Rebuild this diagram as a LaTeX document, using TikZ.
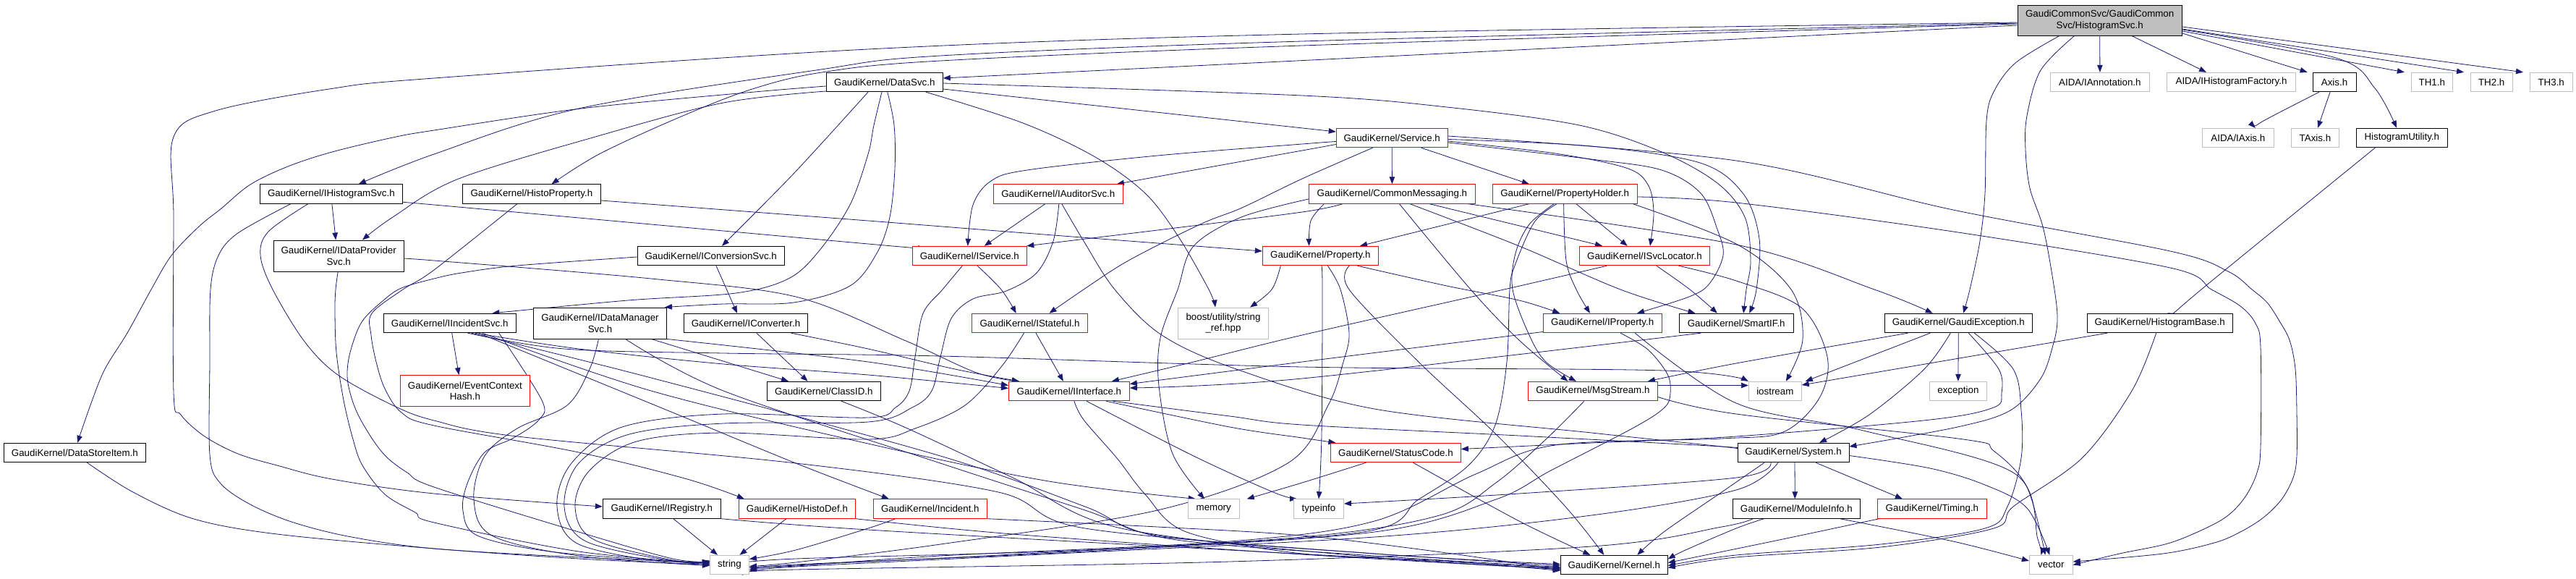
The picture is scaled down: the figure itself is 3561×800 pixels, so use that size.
\documentclass[tikz,border=0pt]{standalone}
\usepackage{fontspec}
\setmainfont{Liberation Sans}
\usetikzlibrary{arrows.meta,backgrounds}
\definecolor{edgec}{HTML}{191970}
\definecolor{gry}{HTML}{BFBFBF}
\newcommand\nfont{\fontsize{13.33pt}{15.5pt}\selectfont}
\newcommand\edgep[1]{\draw[e] plot[smooth,tension=0.55] coordinates {#1};}
\begin{document}
\begin{tikzpicture}[x=1pt,y=-1pt,
  nb/.style={draw=black,line width=0.9pt,fill=white,inner sep=0pt,minimum height=26.5pt,align=center,font=\nfont},
  nr/.style={nb,draw=red},
  ng/.style={nb,draw=gry},
  e/.style={draw=edgec,line width=0.8pt,-{Triangle[length=10pt,width=7.5pt]}}]
\useasboundingbox (0,0) rectangle (3561,800);
% ---------- nodes ----------
\node[nb,fill=gry,minimum width=227.5pt,minimum height=42pt] (root) at (2902.7,28) {GaudiCommonSvc/GaudiCommon\\Svc/HistogramSvc.h};
\node[nb,minimum width=161pt] (datasvc) at (1222.8,113.5) {GaudiKernel/DataSvc.h};
\node[ng,minimum width=137pt] (iannot) at (2902.9,113.5) {AIDA/IAnnotation.h};
\node[ng,minimum width=178pt] (ihfact) at (3084.5,113.5) {AIDA/IHistogramFactory.h};
\node[nb,minimum width=60pt] (axis) at (3227,113.5) {Axis.h};
\node[ng,minimum width=57pt] (th1) at (3361.8,113.5) {TH1.h};
\node[ng,minimum width=58pt] (th2) at (3444.2,113.5) {TH2.h};
\node[ng,minimum width=59pt] (th3) at (3526.7,113.5) {TH3.h};
\node[nr,minimum width=154pt] (service) at (1924.2,190.5) {GaudiKernel/Service.h};
\node[ng,minimum width=99pt] (iaxis) at (3093.8,190.5) {AIDA/IAxis.h};
\node[ng,minimum width=66pt] (taxis) at (3200.4,190.5) {TAxis.h};
\node[nb,minimum width=126pt] (histutil) at (3320.3,190.5) {HistogramUtility.h};
\node[nb,minimum width=197pt] (ihistsvc) at (457.9,268) {GaudiKernel/IHistogramSvc.h};
\node[nb,minimum width=191pt] (histprop) at (734.9,268) {GaudiKernel/HistoProperty.h};
\node[nr,minimum width=179pt] (iauditor) at (1462.8,268) {GaudiKernel/IAuditorSvc.h};
\node[nr,minimum width=230pt] (commsg) at (1924.4,268) {GaudiKernel/CommonMessaging.h};
\node[nr,minimum width=200pt] (propholder) at (2163.2,268) {GaudiKernel/PropertyHolder.h};
\node[nb,minimum width=180pt,minimum height=43pt] (idataprov) at (468.2,353.5) {GaudiKernel/IDataProvider\\Svc.h};
\node[nb,minimum width=203pt] (iconvsvc) at (982.7,353.5) {GaudiKernel/IConversionSvc.h};
\node[nr,minimum width=158pt] (iservice) at (1340.3,353.5) {GaudiKernel/IService.h};
\node[nr,minimum width=160pt] (property) at (1825.3,353.5) {GaudiKernel/Property.h};
\node[nr,minimum width=180pt] (isvcloc) at (2273.4,353.5) {GaudiKernel/ISvcLocator.h};
\node[nb,minimum width=183pt] (iincsvc) at (621.7,446.5) {GaudiKernel/IIncidentSvc.h};
\node[nb,minimum width=184pt,minimum height=43pt] (idatamgr) at (829.5,446.5) {GaudiKernel/IDataManager\\Svc.h};
\node[nb,minimum width=171pt] (iconverter) at (1031,446.5) {GaudiKernel/IConverter.h};
\node[nr,minimum width=160pt] (istateful) at (1423.5,446.5) {GaudiKernel/IStateful.h};
\node[ng,minimum width=125pt,minimum height=43pt] (boost) at (1691,446.5) {boost/utility/string\\\_ref.hpp};
\node[nr,minimum width=164pt] (iproperty) at (2215.2,446.5) {GaudiKernel/IProperty.h};
\node[nb,minimum width=158pt] (smartif) at (2400.2,446.5) {GaudiKernel/SmartIF.h};
\node[nb,minimum width=204pt] (gexc) at (2707.3,446.5) {GaudiKernel/GaudiException.h};
\node[nb,minimum width=201pt] (histbase) at (2985.7,446.5) {GaudiKernel/HistogramBase.h};
\node[nr,minimum width=179pt,minimum height=43pt] (eventctx) at (642.9,540) {GaudiKernel/EventContext\\Hash.h};
\node[nb,minimum width=157pt] (classid) at (1138.8,540.5) {GaudiKernel/ClassID.h};
\node[nr,minimum width=167pt] (iinterface) at (1477.9,540.5) {GaudiKernel/IInterface.h};
\node[nr,minimum width=179pt] (msgstream) at (2201.9,540.5) {GaudiKernel/MsgStream.h};
\node[ng,minimum width=73pt] (iostream) at (2453.8,540.5) {iostream};
\node[ng,minimum width=79pt] (exception) at (2706.9,540.5) {exception};
\node[nb,minimum width=196pt] (datastore) at (103.4,625.5) {GaudiKernel/DataStoreItem.h};
\node[nr,minimum width=180pt] (statuscode) at (1929.4,625.5) {GaudiKernel/StatusCode.h};
\node[nb,minimum width=154pt] (system) at (2479,625.5) {GaudiKernel/System.h};
\node[nb,minimum width=163pt] (iregistry) at (914.8,703) {GaudiKernel/IRegistry.h};
\node[nr,minimum width=161pt] (histodef) at (1101.9,703) {GaudiKernel/HistoDef.h};
\node[nr,minimum width=157pt] (incident) at (1285.8,703) {GaudiKernel/Incident.h};
\node[ng,minimum width=71pt] (memory) at (1677.7,703) {memory};
\node[ng,minimum width=69pt] (typeinfo) at (1823,703) {typeinfo};
\node[nb,minimum width=176pt] (modinfo) at (2483.3,703) {GaudiKernel/ModuleInfo.h};
\node[nr,minimum width=151pt] (timing) at (2670.9,703) {GaudiKernel/Timing.h};
\node[ng,minimum width=54pt] (string) at (1008.5,780.5) {string};
\node[nb,minimum width=148pt] (kernel) at (2231.3,780.5) {GaudiKernel/Kernel.h};
\node[ng,minimum width=60pt] (vector) at (2835.3,780.5) {vector};
% ---------- edges ----------
\begin{scope}[on background layer]
% root
\draw[e] ([yshift=-7pt]root.west) -- ([yshift=5.5pt]datasvc.east);
\edgep{([yshift=-4pt]root.west) (1800,57) (1300,77) (1128,97) (800,150) (600,213) ([xshift=38pt]ihistsvc.north)}
\edgep{([yshift=-5pt]root.west) (1800,63) (1300,84) (1136,100) (1040,123) (944,160) (830,212) ([xshift=27.7pt]histprop.north)}
\edgep{([yshift=-3pt]root.west) (1800,47) (1200,68) (600,108) (455,123) (298,153) (240,189) (240,300) (240,542) (250,573) (283,603) (329,627) (383,643) (459,662) (600,682) ([yshift=3pt]iregistry.west)}
\draw[e] (root.south) -- (iannot.north);
\draw[e] ([xshift=44pt]root.south) -- ([xshift=-34.5pt]ihfact.north);
\draw[e] ([yshift=-18pt]root.east) -- ([xshift=-37.4pt]axis.north);
\draw[e] ([yshift=-15pt]root.east) -- ([xshift=-38pt]th1.north);
\draw[e] ([yshift=-12pt]root.east) -- ([xshift=-38.2pt]th2.north);
\draw[e] ([yshift=-9pt]root.east) -- ([xshift=-38.7pt]th3.north);
\edgep{([yshift=-13pt]root.east) (3229,80) (3283,122) ([xshift=-7.3pt]histutil.north)}
\edgep{([xshift=-55.7pt]root.south) (2786,87) (2756,127) (2746,167) (2744,267) (2737,333) (2723,400) ([xshift=6.7pt]gexc.north)}
\edgep{([xshift=-35pt]root.south) (2821,97) (2802,160) (2800,207) (2806,260) (2825,317) (2840,400) (2844,443) (2838,477) (2821,523) (2779,567) (2706,590) ([yshift=8.5pt]system.east)}
% datasvc
\edgep{([yshift=-5.5pt]datasvc.west) (1032,128) (803,150) (600,180) (543,190) (459,210) (398,230) (346,255) (306,288) (275,313) (237,353) (209,400) (176,460) (145,510) (126,557) ([xshift=3.6pt]datastore.north)}
\edgep{([yshift=-12.5pt]datasvc.west) (1000,142) (830,187) (634,247) (543,300) ([xshift=32.8pt]idataprov.north)}
\edgep{([xshift=-22.8pt]datasvc.south) (1097,240) ([xshift=15.3pt]iconvsvc.north)}
\edgep{([xshift=-3.8pt]datasvc.south) (1208,173) (1200,213) (1175,283) (1132,347) (1090,385) (1017,405) (868,415) ([xshift=58.7pt]iincsvc.north)}
\edgep{([xshift=4pt]datasvc.south) (1236,173) (1237,233) (1230,300) (1212,350) (1175,395) (1097,418) (1000,420) ([xshift=-3pt]idatamgr.north east)}
\draw[e] ([yshift=-9.5pt]datasvc.east) -- ([yshift=8.5pt]service.west);
\edgep{([yshift=-1.5pt]datasvc.east) (1800,132) (2000,148) (2183,173) (2297,210) (2374,253) (2412,300) (2420,360) (2414,400) ([xshift=10pt]smartif.north)}
\edgep{([xshift=57pt]datasvc.south) (1414,170) (1514,217) (1583,267) (1629,327) (1671,400) ([xshift=-11pt]boost.north)}
% ihistsvc
\draw[e] ([xshift=1pt]ihistsvc.south) -- ([xshift=-4pt]idataprov.north);
\edgep{([xshift=-56pt]ihistsvc.south) (329,322) (302,353) (291,400) (290,500) (290,628) (304,667) (346,697) (406,722) (486,742) (600,758) (800,770) ([yshift=3pt]string.west)}
\edgep{([xshift=-32pt]ihistsvc.south) (371,320) (360,353) (377,400) (421,472) (467,518) (543,560) (600,581) (715,603) (1100,640) (1380,680) (1500,730) (1900,765) ([yshift=1pt]kernel.west)}
\edgep{([yshift=-12pt]ihistsvc.east) (600,283) (1200,337) ([yshift=11.5pt]iservice.west)}
% histprop
\edgep{([yshift=-9pt]histprop.east) (1200,305) (1430,323) ([yshift=6.5pt]property.west)}
\edgep{([xshift=-20pt]histprop.south) (600,373) (557,400) (514,433) (513,463) (520,500) (532,537) (555,570) (600,588) (800,625) (950,662) ([xshift=-73pt]histodef.north)}
% idataprov
\edgep{([xshift=-1pt]idataprov.south) (464,400) (463,430) (465,487) (475,553) (488,607) (501,643) (532,683) (574,708) (600,722) (800,762) ([yshift=2pt]string.west)}
\edgep{([yshift=-4pt]idataprov.east) (600,360) (900,385) (1100,410) (1250,470) (1350,515) ([xshift=-69pt]iinterface.north)}
% iconvsvc
\draw[e] ([xshift=7.3pt]iconvsvc.south) -- ([xshift=-12pt]iconverter.north);
\edgep{([yshift=-1.5pt]iconvsvc.west) (715,367) (638,377) (600,385) (555,398) (530,415) (500,445) (484,487) (480,520) (486,550) (497,577) (517,610) (536,633) (563,653) (600,673) (800,735) (930,772) ([yshift=5pt]string.west)}
% iincsvc
\draw[e] ([xshift=3pt]iincsvc.south) -- ([xshift=-8.5pt]eventctx.north);
\edgep{([xshift=35pt]iincsvc.south) (800,482) (1000,503) (1200,518) ([yshift=4pt]iinterface.west)}
\edgep{([xshift=40pt]iincsvc.south) (930,570) (1100,640) ([xshift=-57pt]incident.north)}
\edgep{([xshift=68pt]iincsvc.south) (749,553) (745,580) (710,605) (670,625) (646,668) (640,706) (660,740) (760,762) (930,776) ([yshift=1pt]string.west)}
\edgep{([xshift=45pt]iincsvc.south) (900,540) (1200,613) (1450,665) ([xshift=-25pt]memory.north)}
\edgep{([xshift=30pt]iincsvc.south) (900,522) (1300,630) (1500,700) (1600,740) (1900,765) ([yshift=-1pt]kernel.west)}
\edgep{([xshift=25pt]iincsvc.south) (780,482) (1000,488) (1300,492) (1800,507) (2300,512) (iostream.north west)}
% iconverter / idatamgr / classid
\draw[e] ([xshift=14.8pt]iconverter.south) -- ([xshift=-22.2pt]classid.north);
\edgep{([xshift=62.7pt]iconverter.south) (1200,482) (1320,510) ([xshift=-69pt]iinterface.north)}
\draw[e] ([xshift=71pt]idatamgr.south) -- ([xshift=-48.8pt]classid.north);
\edgep{(idatamgr.south east) (1200,500) ([yshift=8pt]iinterface.west)}
\edgep{([xshift=-2pt]idatamgr.south) (815,510) (784,560) (715,592) (670,630) (655,690) (680,740) (800,768) ([yshift=-1pt]string.west)}
\edgep{([xshift=35pt]idatamgr.south) (1000,540) (1300,640) (1500,705) (1620,745) (1900,768) ([yshift=-3pt]kernel.west)}
\edgep{([xshift=24pt]classid.south) (1250,590) (1400,660) (1550,730) (1900,770) ([yshift=-5pt]kernel.west)}
% row 8 left
\draw[e] ([xshift=16pt]iregistry.south) -- ([xshift=-16.5pt]string.north);
\edgep{(iregistry.south east) (1200,732) (1700,760) ([yshift=-4pt]kernel.west)}
\draw[e] ([xshift=-15pt]histodef.south) -- ([xshift=14pt]string.north);
\edgep{(histodef.south east) (1400,738) (1800,766) ([yshift=-6pt]kernel.west)}
\edgep{([xshift=-48pt]incident.south) (1200,730) (1100,760) ([yshift=8pt]string.east)}
\edgep{(incident.south east) (1600,728) (1800,740) (2000,764) ([yshift=-7pt]kernel.west)}
\edgep{([xshift=17pt]datastore.south) (184,680) (268,717) (383,738) (600,758) (800,772) (string.west)}
% service
\edgep{([yshift=-9pt]service.west) (1800,208) (1650,235) ([xshift=81pt]iauditor.north)}
\edgep{([yshift=-5pt]service.west) (1800,199) (1600,215) (1420,235) (1370,250) (1345,283) ([xshift=-2.5pt]iservice.north)}
\edgep{([xshift=-26.6pt]service.south) (1800,247) (1717,287) (1659,310) (1560,360) (1498,400) ([xshift=27pt]istateful.north)}
\draw[e] (service.south) -- (commsg.north);
\draw[e] ([xshift=40.4pt]service.south) -- ([xshift=-49.4pt]propholder.north);
\edgep{([yshift=-4.5pt]service.east) (2150,212) (2248,232) (2278,255) (2286,293) ([xshift=7.6pt]isvcloc.north)}
\edgep{([yshift=-6.5pt]service.east) (2200,220) (2297,235) (2351,267) (2374,317) (2382,353) (2363,392) (2335,410) ([xshift=47.8pt]iproperty.north)}
\edgep{([yshift=-2pt]service.east) (2200,202) (2350,225) (2410,268) (2432,330) (2428,400) ([xshift=18pt]smartif.north)}
\edgep{([yshift=2.5pt]service.east) (2400,222) (2700,290) (3000,347) (3080,375) (3113,400) (3134,418) (3150,442) (3165,470) (3173,510) (3175,570) (3175,630) (3170,660) (3154,690) (3129,715) (3097,735) (3061,750) (2990,765) ([yshift=4.5pt]vector.east)}
% propholder
\edgep{([yshift=-4pt]propholder.east) (2400,280) (2700,320) (3000,370) (3057,400) (3097,423) (3118,447) (3125,480) (3125,617) (3120,653) (3106,683) (3086,707) (3059,725) (3000,750) (2930,765) (vector.east)}
\draw[e] ([xshift=-49.4pt]propholder.south) -- ([xshift=54.7pt]property.north);
\draw[e] ([xshift=15.6pt]propholder.south) -- ([xshift=-23.7pt]isvcloc.north);
\edgep{([xshift=-1.6pt]propholder.south) (2165,360) (2179,400) ([xshift=-17.2pt]iproperty.north)}
\edgep{([xshift=-15pt]propholder.south) (2114,310) (2095,350) (2091,400) (2114,463) (2137,500) ([xshift=-23pt]msgstream.north)}
\edgep{([xshift=94pt]propholder.south) (2400,337) (2476,400) (2492,469) ([xshift=15pt]iostream.north)}
\edgep{([xshift=-11pt]propholder.south) (2121,307) (2094,367) (2087,400) (2083,500) (2067,587) (2030,643) (1961,690) (1884,735) (1500,760) (1100,772) ([yshift=2pt]string.east)}
% iauditor
\draw[e] ([xshift=-18pt]iauditor.south) -- ([xshift=20.4pt]iservice.north);
\edgep{([xshift=1pt]iauditor.south) (1456,333) (1433,377) (1391,402) (1345,413) (1315,440) (1300,493) (1288,540) (1261,563) (1200,583) (1000,585) (870,600) (800,640) (780,700) (810,748) (930,775) ([yshift=4pt]string.west)}
\edgep{([xshift=5pt]iauditor.south) (1498,333) (1541,400) (1606,463) (1709,510) (1900,565) (2200,598) (2380,617) ([yshift=5.5pt]system.west)}
% commsg
\edgep{([xshift=-68.4pt]commsg.south) (1800,293) (1600,318) ([xshift=79pt]iservice.north)}
\edgep{([xshift=-94pt]commsg.south) (1812,305) ([xshift=-15.7pt]property.north)}
\draw[e] ([xshift=51.6pt]commsg.south) -- ([xshift=-58.4pt]isvcloc.north);
\edgep{([xshift=24.6pt]commsg.south) (2100,340) (2240,400) ([xshift=-56.8pt]smartif.north)}
\edgep{([xshift=10pt]commsg.south) (2033,400) (2100,470) ([xshift=-34.5pt]msgstream.north)}
\edgep{([yshift=-7pt]commsg.west) (1716,300) (1650,340) (1628,400) (1604,467) (1602,533) (1621,627) ([xshift=-12.7pt]memory.north)}
\edgep{([xshift=105pt]commsg.south) (2400,338) (2591,400) ([xshift=-35.6pt]gexc.north)}
% property
\edgep{([xshift=51pt]property.south) (2000,395) (2100,415) ([xshift=-59pt]iproperty.north)}
\edgep{([xshift=-55pt]property.south) (1758,400) ([xshift=37pt]boost.north)}
\edgep{([xshift=1.5pt]property.south) (1828,400) (1827,600) (typeinfo.north)}
\edgep{([xshift=40pt]property.south) (1865,400) (1961,500) (2068,600) (2164,700) ([xshift=-14pt]kernel.north)}
\edgep{([xshift=10pt]property.south) (1853,400) (1865,460) (1857,500) (1836,560) (1780,640) (1600,705) (1300,752) (1100,777) ([yshift=-2pt]string.east)}
% isvcloc
\edgep{([xshift=-52pt]isvcloc.south) (2079,400) (1800,463) (1650,500) ([xshift=59pt]iinterface.north)}
\edgep{([xshift=16.4pt]isvcloc.south) (2336,400) ([xshift=-26.2pt]smartif.north)}
\edgep{([xshift=47pt]isvcloc.south) (2400,388) (2490,425) (2526,493) (2515,550) (2465,597) (2380,606) (2150,615) (2040,655) (1900,720) (1700,748) (1300,768) (1100,782) ([yshift=-4pt]string.east)}
% iproperty
\edgep{([yshift=-12pt]iproperty.west) (1800,500) ([yshift=10pt]iinterface.east)}
\edgep{([xshift=25pt]iproperty.south) (2278,483) (2305,517) (2309,543) (2301,563) (2260,590) (2144,650) (2068,690) (1900,735) (1500,762) (1100,780) ([yshift=-5pt]string.east)}
\edgep{([xshift=45pt]iproperty.south) (2400,557) (2576,595) (2783,653) (2817,745) ([xshift=-14pt]vector.north)}
% smartif
\edgep{([xshift=-49pt]smartif.south) (1800,523) ([yshift=4.5pt]iinterface.east)}
% gexc
\draw[e] ([xshift=-39pt]gexc.south) -- ([xshift=42pt]iostream.north);
\draw[e] (gexc.south) -- (exception.north);
\edgep{([xshift=-70pt]gexc.south) (2400,502) ([xshift=76pt]msgstream.north)}
\edgep{([xshift=-11pt]gexc.south) (2660,510) (2584,573) ([xshift=36pt]system.north)}
\edgep{([xshift=22pt]gexc.south) (2783,510) (2794,567) (2794,633) (2775,700) (2744,730) (2600,752) (2400,767) ([yshift=-1pt]kernel.east)}
\edgep{([xshift=14pt]gexc.south) (2763,510) (2767,543) (2756,563) (2668,580) (2400,603) (2200,612) ([yshift=5pt]statuscode.east)}
% msgstream
\edgep{([xshift=-12pt]msgstream.south) (2137,607) (2068,667) (1990,712) (1800,742) (1400,766) (1100,781) ([yshift=-7pt]string.east)}
\draw[e] ([yshift=8pt]msgstream.east) -- ([yshift=8pt]iostream.west);
\edgep{([yshift=-8pt]msgstream.east) (2400,572) (2714,607) (2756,623) (2802,673) ([xshift=-8pt]vector.north)}
% statuscode
\edgep{([xshift=-41pt]statuscode.south) (1800,667) ([xshift=46pt]memory.north)}
\edgep{([xshift=24pt]statuscode.south) (2100,720) ([xshift=-33pt]kernel.north)}
% iinterface
\edgep{([xshift=51pt]iinterface.south) (1700,590) (1800,605) ([xshift=-83pt]statuscode.north)}
\edgep{([xshift=60pt]iinterface.south) (1700,575) (1800,587) (2100,602) (2380,617) ([yshift=5.5pt]system.west)}
\edgep{([xshift=24pt]iinterface.south) (1650,630) (1760,680) ([xshift=-30pt]typeinfo.north)}
\edgep{([xshift=7pt]iinterface.south) (1498,580) (1544,633) (1583,683) (1640,735) (1800,765) (2000,775) ([yshift=-8pt]kernel.west)}
% iservice / istateful
\edgep{([xshift=10.7pt]iservice.south) (1384,400) ([xshift=-18.8pt]istateful.north)}
\edgep{([xshift=-10pt]iservice.south) (1303,400) (1276,433) (1265,493) (1257,540) (1238,563) (1200,577) (1000,572) (860,590) (790,640) (770,700) (800,752) (930,778) ([yshift=6pt]string.west)}
\draw[e] ([xshift=8.5pt]istateful.south) -- ([xshift=-8pt]iinterface.north);
\edgep{([xshift=-8pt]istateful.south) (1384,507) (1334,560) (1265,592) (1200,607) (1000,598) (880,610) (815,650) (795,700) (820,745) (930,774) ([yshift=4pt]string.west)}
% right side
\edgep{([xshift=-37pt]histutil.south) (3043,400) ([xshift=21.3pt]histbase.north)}
\edgep{([xshift=-21pt]axis.south) (3129,167) ([xshift=24pt]iaxis.north)}
\draw[e] ([xshift=-6pt]axis.south) -- ([xshift=3.6pt]taxis.north);
\draw[e] ([xshift=-72.7pt]histbase.south) -- ([yshift=8.5pt]iostream.east);
\edgep{([xshift=-5pt]histbase.south) (2947,540) (2878,633) (2783,700) (2756,730) (2600,756) (2400,770) ([yshift=-4pt]kernel.east)}
% system
\edgep{([xshift=-31pt]system.south) (2400,660) (2100,682) ([yshift=7pt]typeinfo.east)}
\draw[e] ([xshift=2pt]system.south) -- ([xshift=-2pt]modinfo.north);
\draw[e] ([xshift=31pt]system.south) -- ([xshift=-41pt]timing.north);
\edgep{([yshift=-4pt]system.east) (2668,647) (2744,670) (2802,702) ([xshift=-2pt]vector.north)}
\edgep{([xshift=-21pt]system.south) (2400,677) (2200,712) (1900,742) (1400,768) (1100,783) ([yshift=-9pt]string.east)}
\edgep{([xshift=-40pt]system.south) (2380,680) (2300,735) ([xshift=32pt]kernel.north)}
% modinfo / timing
\edgep{([xshift=-45pt]modinfo.south) (2400,730) (2330,760) ([yshift=8pt]kernel.east)}
\edgep{([xshift=-60pt]modinfo.south) (2380,728) (2200,755) (1700,776) (1100,787) ([yshift=-11pt]string.east)}
\edgep{([xshift=60pt]modinfo.south) (2700,748) ([yshift=5.5pt]vector.west)}
\edgep{([xshift=-73pt]timing.south) (2450,748) ([yshift=3pt]kernel.east)}
\end{scope}
\end{tikzpicture}
\end{document}
